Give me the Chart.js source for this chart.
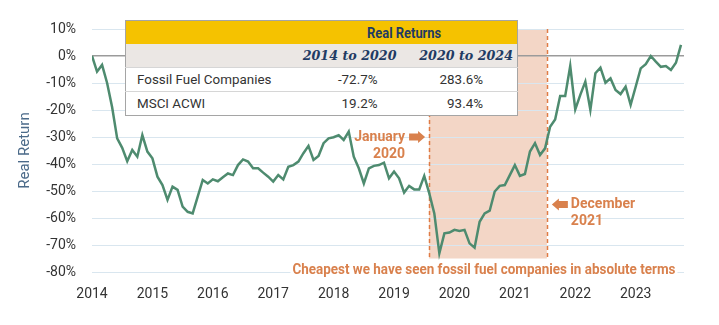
<!DOCTYPE html>
<html>
<head>
<meta charset="utf-8">
<script src="https://cdn.jsdelivr.net/npm/chart.js@4.4.0/dist/chart.umd.min.js"></script>
<style>
html, body { margin: 0; padding: 0; background: #fff; }
#wrap { position: relative; width: 719px; height: 325px; }
#returnsTable {
    position: absolute; left: 125px; top: 20px; width: 392px;
    border-collapse: collapse; table-layout: fixed;
    border: 1.5px solid #a5a5a5; background: #fff;
    font-family: Roboto, sans-serif; font-size: 13.4px; color: #333;
}
#returnsTable td { padding: 0; height: 23px; white-space: nowrap; }
#returnsTable tr.head td { background: #f5c200; color: #1f3b63; font-weight: bold; font-size: 15px; text-align: center; }
#returnsTable tr.sub td { background: #ebe7e4; color: #1f3b63; font-family: "DejaVu Serif", serif; font-style: italic; font-weight: bold; font-size: 12.7px; text-align: right; }
#returnsTable tr.row td { border-top: 1px solid #d6d6d6; text-align: right; }
#returnsTable tr.row td:first-child { text-align: left; padding-left: 11px; }
.cond { display: inline-block; transform: scaleX(0.86); }
</style>
</head>
<body>
<div id="wrap">
    <canvas id="returnChart" width="719" height="325"></canvas>
    <table id="returnsTable"></table>
</div>
<script>
// monthly real return of fossil fuel companies, Jan 2014 onwards (%)
const startYear = 2014;
const yearTicks = [2014, 2015, 2016, 2017, 2018, 2019, 2020, 2021, 2022, 2023];
const fuelReturns = [
    0, -5.8, -3.3, -10, -19, -30.5, -34, -39, -34.8, -37.3,
    -29.3, -35.4, -37.9, -44.7, -47.8, -53.3, -48.4, -49.6, -55.8, -57.7,
    -58.3, -52.1, -45.9, -47.2, -45.7, -46.4, -44.9, -43.5, -44.1, -40.4,
    -38.3, -39.1, -41.6, -41.6, -43.2, -44.7, -46.5, -44.1, -45.7, -41,
    -40.4, -39.1, -36, -33.3, -38.5, -37, -32.3, -30.5, -30.1, -29.3,
    -31.1, -28, -37.3, -41.6, -47.2, -41.6, -40.7, -40.4, -39.5, -45.3,
    -42.8, -45.3, -50.6, -48.1, -49.4, -49.4, -44.4, -50.9, -58.3, -73.1,
    -65.7, -65.4, -64.4, -64.8, -64.4, -69.4, -71, -61.4, -58.3, -57.3,
    -50.2, -48.1, -47.8, -44.1, -40.4, -44.4, -43.7, -35.4, -32.3, -36.7,
    -34.2, -26.2, -23.5, -14.8, -14.8, -3.7, -19.8, -14.4, -9.5, -20,
    -6.4, -4.3, -9.9, -8.3, -12.6, -14.1, -11.4, -18.1, -11.4, -4.6,
    -3, 0, -2.1, -4, -3.7, -5.2, -2.5, 4.1
];

// shaded "cheapest" window (x in years, y in %)
const cheapWindow = [2019.58, 2021.53];
const cheapRange = [10, -75];

// table
const tableTitle = 'Real Returns';
const periods = ['2014 to 2020', '2020 to 2024'];
const assets = ['Fossil Fuel Companies', 'MSCI ACWI'];
const periodReturns = [['-72.7%', '283.6%'], ['19.2%', '93.4%']];

// annotations
const startNote = ['January', '2020'];
const endNote = ['December', '2021'];
const bottomNote = 'Cheapest we have seen fossil fuel companies in absolute terms';
const startNoteAt = -30;
const endNoteAt = -55;
const bottomNoteAt = -79.5;

// build the table
const tbl = document.getElementById('returnsTable');
let html = '<colgroup><col style="width:165px"><col style="width:113px"><col style="width:114px"></colgroup>';
html += '<tr class="head"><td></td><td colspan="2"><span class="cond">' + tableTitle + '</span></td></tr>';
html += '<tr class="sub"><td></td><td style="padding-right:7px">' + periods[0] + '</td><td style="padding-right:4px">' + periods[1] + '</td></tr>';
assets.forEach((a, i) => {
    html += '<tr class="row"><td>' + a + '</td><td style="padding-right:26px">' + periodReturns[i][0] +
        '</td><td style="padding-right:34px">' + periodReturns[i][1] + '</td></tr>';
});
tbl.innerHTML = html;

const orange = '#d9814d';

function condText(ctx, text, x, y, align, k) {
    ctx.save();
    ctx.translate(x, y);
    ctx.scale(k, 1);
    ctx.textAlign = align;
    ctx.fillText(text, 0, 0);
    ctx.restore();
}

function arrow(ctx, tipX, y, dir) {
    const len = 16, head = 7, half = 6, body = 3.5;
    const tail = tipX - dir * len, neck = tipX - dir * head;
    ctx.beginPath();
    ctx.moveTo(tail, y - body);
    ctx.lineTo(neck, y - body);
    ctx.lineTo(neck, y - half);
    ctx.lineTo(tipX, y);
    ctx.lineTo(neck, y + half);
    ctx.lineTo(neck, y + body);
    ctx.lineTo(tail, y + body);
    ctx.closePath();
    ctx.fill();
}

const highlight = {
    id: 'highlight',
    beforeDraw(chart) {
        const {ctx, scales: {x, y}} = chart;
        const x0 = x.getPixelForValue(cheapWindow[0]);
        const x1 = x.getPixelForValue(cheapWindow[1]);
        const y0 = y.getPixelForValue(cheapRange[0]);
        const y1 = y.getPixelForValue(cheapRange[1]);
        ctx.save();
        ctx.fillStyle = '#f3d6c6';
        ctx.fillRect(x0, y0, x1 - x0, y1 - y0);
        ctx.restore();
    },
    beforeDatasetsDraw(chart) {
        const {ctx, scales: {x, y}} = chart;
        const y0 = y.getPixelForValue(cheapRange[0]);
        const y1 = y.getPixelForValue(cheapRange[1]);
        ctx.save();
        ctx.strokeStyle = '#e07b45';
        ctx.lineWidth = 1.5;
        ctx.setLineDash([4, 3]);
        cheapWindow.forEach(v => {
            const px = Math.round(x.getPixelForValue(v)) + 0.5;
            ctx.beginPath();
            ctx.moveTo(px, y0);
            ctx.lineTo(px, y1);
            ctx.stroke();
        });
        ctx.restore();
    },
    afterDatasetsDraw(chart) {
        const {ctx, scales: {x, y}} = chart;
        const x0 = x.getPixelForValue(cheapWindow[0]);
        const x1 = x.getPixelForValue(cheapWindow[1]);
        ctx.save();
        ctx.fillStyle = orange;
        ctx.font = 'bold 14px Roboto';
        ctx.textBaseline = 'middle';

        const ys = y.getPixelForValue(startNoteAt);
        condText(ctx, startNote[0], x0 - 24, ys, 'right', 1);
        condText(ctx, startNote[1], x0 - 24, ys + 17, 'right', 1);
        arrow(ctx, x0 - 4, ys, 1);

        const ye = y.getPixelForValue(endNoteAt);
        condText(ctx, endNote[0], x1 + 24, ye, 'left', 1);
        condText(ctx, endNote[1], x1 + 24, ye + 17, 'left', 1);
        arrow(ctx, x1 + 5, ye, -1);

        const yb = y.getPixelForValue(bottomNoteAt);
        const cx = (x0 + x1) / 2 - 4;
        const k = 0.96;
        const w = ctx.measureText(bottomNote).width * k;
        ctx.fillStyle = '#fff';
        ctx.fillRect(cx - w / 2 - 2, yb - 8, w + 4, 16);
        ctx.fillStyle = orange;
        condText(ctx, bottomNote, cx, yb, 'center', k);
        ctx.restore();
    }
};

new Chart(document.getElementById('returnChart'), {
    type: 'line',
    data: {
        datasets: [{
            label: 'Fossil Fuel Companies',
            data: fuelReturns.map((v, i) => ({x: startYear + i / 12, y: v})),
            borderColor: '#4e8b6f',
            borderWidth: 2.5,
            pointRadius: 0,
            tension: 0,
            fill: false
        }]
    },
    options: {
        responsive: false,
        animation: false,
        layout: {padding: {left: 10, right: 35, top: 29, bottom: 8}},
        plugins: {legend: {display: false}, tooltip: {enabled: false}},
        scales: {
            x: {
                type: 'linear',
                min: 2014,
                max: 2023.8,
                grid: {display: false, drawTicks: false},
                border: {display: false},
                afterBuildTicks: s => { s.ticks = yearTicks.map(v => ({value: v})); },
                ticks: {
                    padding: 14,
                    maxRotation: 0,
                    autoSkip: false,
                    color: '#333',
                    font: {family: 'Roboto', size: 14},
                    callback: v => String(v)
                },
                afterFit: s => { s.height = 45; }
            },
            y: {
                min: -80,
                max: 10,
                grid: {
                    drawTicks: false,
                    color: c => c.tick.value === 0 ? '#9b9b9b' : '#d9e6ef',
                    lineWidth: c => c.tick.value === 0 ? 1.5 : 1
                },
                border: {display: false},
                ticks: {
                    stepSize: 10,
                    padding: 16,
                    color: '#333',
                    font: {family: 'Roboto', size: 14},
                    callback: v => v + '%'
                },
                title: {
                    display: true,
                    text: 'Real Return',
                    color: '#4b6a89',
                    font: {family: 'Roboto', size: 15},
                    padding: {top: 6, bottom: 0}
                },
                afterFit: s => { s.width = 82; }
            }
        }
    },
    plugins: [highlight]
});
</script>
</body>
</html>
